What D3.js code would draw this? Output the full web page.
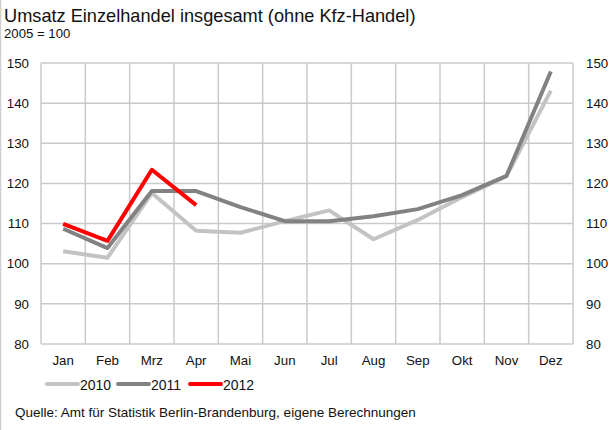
<!DOCTYPE html>
<html>
<head>
<meta charset="utf-8">
<script src="https://cdn.jsdelivr.net/npm/d3@7"></script>
<style>
  html, body { margin: 0; padding: 0; background: #fff; }
  svg { display: block; font-family: "Liberation Sans", Arial, sans-serif; }
</style>
</head>
<body>
<svg id="chart" width="614" height="430"></svg>
<script>
// Retail turnover index (2005 = 100), monthly
const months = ["Jan", "Feb", "Mrz", "Apr", "Mai", "Jun", "Jul", "Aug", "Sep", "Okt", "Nov", "Dez"];
const yTicks = [80, 90, 100, 110, 120, 130, 140, 150];
const years = ["2010", "2011", "2012"];
const values2010 = [103.1, 101.5, 117.6, 108.2, 107.7, 110.6, 113.3, 106.1, 110.9, 116.6, 121.8, 143.1];
const values2011 = [108.7, 103.9, 118.1, 118.1, 114.1, 110.6, 110.6, 111.8, 113.6, 117.1, 121.9, 147.9];
const values2012 = [109.9, 105.7, 123.4, 114.6];
const colors = ["#c3c3c3", "#828282", "#ff0000"];

const svg = d3.select("#chart");
const plot = { left: 41, right: 573, top: 63, bottom: 344 };

const x = d3.scaleBand().domain(months).range([plot.left, plot.right]);
const y = d3.scaleLinear().domain([80, 150]).range([plot.bottom, plot.top]);

// outer frame edge
svg.append("line").attr("x1", 0.5).attr("x2", 0.5).attr("y1", 0).attr("y2", 430)
  .attr("stroke", "#d0d0d0").attr("stroke-width", 1.5);

// titles
svg.append("text").attr("x", 4).attr("y", 22).attr("font-size", 18.2).attr("fill", "#111")
  .text("Umsatz Einzelhandel insgesamt (ohne Kfz-Handel)");
svg.append("text").attr("x", 4).attr("y", 38).attr("font-size", 13.2).attr("fill", "#111")
  .text("2005 = 100");

// grid
const grid = svg.append("g").attr("stroke", "#cacaca").attr("stroke-width", 1.5);
grid.selectAll("line.h").data(yTicks).join("line").attr("class", "h")
  .attr("x1", plot.left).attr("x2", plot.right)
  .attr("y1", d => y(d)).attr("y2", d => y(d));
const vEdges = months.map(m => x(m)).concat([plot.right]);
grid.selectAll("line.v").data(vEdges).join("line").attr("class", "v")
  .attr("x1", d => d).attr("x2", d => d)
  .attr("y1", plot.top).attr("y2", plot.bottom);

// axes
const yLeft = d3.axisLeft(y).tickValues(yTicks).tickSize(0).tickPadding(12);
const yRight = d3.axisRight(y).tickValues(yTicks).tickSize(0).tickPadding(13);
const xAxis = d3.axisBottom(x).tickSize(0).tickPadding(12);

function styleAxis(g) {
  g.select(".domain").remove();
  g.selectAll("text").attr("font-size", 13.3).attr("fill", "#111")
    .attr("font-family", "Liberation Sans, Arial, sans-serif");
}
svg.append("g").attr("transform", `translate(${plot.left},0)`).call(yLeft).call(styleAxis);
svg.append("g").attr("transform", `translate(${plot.right},0)`).call(yRight).call(styleAxis);
svg.append("g").attr("transform", `translate(0,${plot.bottom})`).call(xAxis).call(styleAxis);

// series lines
const series = [values2010, values2011, values2012];
const line = d3.line()
  .x((d, i) => x(months[i]) + x.bandwidth() / 2)
  .y(d => y(d));
series.forEach((vals, i) => {
  svg.append("path").datum(vals)
    .attr("fill", "none").attr("stroke", colors[i]).attr("stroke-width", 4)
    .attr("stroke-linejoin", "round").attr("d", line);
});

// legend
const legendX = [47, 118, 190];
const legend = svg.append("g");
years.forEach((yr, i) => {
  legend.append("line").attr("x1", legendX[i]).attr("x2", legendX[i] + 31)
    .attr("y1", 384).attr("y2", 384)
    .attr("stroke", colors[i]).attr("stroke-width", 4).attr("stroke-linecap", "round");
  legend.append("text").attr("x", legendX[i] + 33).attr("y", 389.5)
    .attr("font-size", 14).attr("fill", "#111").text(yr);
});

// source note
svg.append("text").attr("x", 15).attr("y", 417).attr("font-size", 13.5).attr("fill", "#111")
  .text("Quelle: Amt für Statistik Berlin-Brandenburg, eigene Berechnungen");
</script>
</body>
</html>
